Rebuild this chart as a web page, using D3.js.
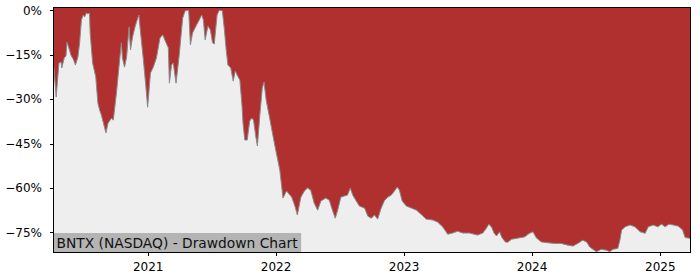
<!DOCTYPE html>
<html>
<head>
<meta charset="utf-8">
<script src="https://cdn.jsdelivr.net/npm/d3@7"></script>
<style>
  body { margin: 0; background: #fff; }
  svg { display: block; font-family: "DejaVu Sans", sans-serif; }
</style>
</head>
<body>
<div class="chart"></div>
<script>
// BNTX drawdown (%)
const dates = [
  "2020-04-06","2020-04-08","2020-04-15","2020-04-23","2020-04-29","2020-05-01","2020-05-08","2020-05-13","2020-05-16","2020-05-23",
  "2020-05-27","2020-06-04","2020-06-09","2020-06-16","2020-06-21","2020-06-26","2020-07-01","2020-07-05","2020-07-10","2020-07-14",
  "2020-07-19","2020-07-21","2020-07-28","2020-08-06","2020-08-12","2020-08-17","2020-08-22","2020-09-04","2020-09-10","2020-09-20",
  "2020-09-25","2020-10-04","2020-10-13","2020-10-18","2020-10-21","2020-10-27","2020-11-02","2020-11-09","2020-11-13","2020-11-19",
  "2020-11-26","2020-12-02","2020-12-07","2020-12-11","2020-12-19","2020-12-26","2021-01-01",
  "2021-01-09","2021-01-17","2021-01-26","2021-02-05","2021-02-13","2021-02-19","2021-03-01","2021-03-04","2021-03-10","2021-03-15",
  "2021-03-23","2021-04-01","2021-04-11","2021-04-18","2021-04-28","2021-05-03","2021-05-09","2021-05-19","2021-05-28","2021-06-04",
  "2021-06-09","2021-06-14","2021-06-22","2021-06-29","2021-07-05","2021-07-10","2021-07-18","2021-07-24","2021-08-02","2021-08-08",
  "2021-08-13","2021-08-18","2021-08-26","2021-09-02","2021-09-08","2021-09-16","2021-09-21","2021-09-27","2021-09-30","2021-10-05",
  "2021-10-12","2021-10-19","2021-10-25","2021-10-30","2021-11-06","2021-11-10","2021-11-17","2021-11-24","2021-11-29","2021-12-05",
  "2021-12-15","2021-12-24",
  "2022-01-03","2022-01-13","2022-01-22","2022-02-01","2022-02-16","2022-02-25","2022-03-04","2022-03-14","2022-03-24","2022-04-02",
  "2022-04-11","2022-04-21","2022-05-01","2022-05-10","2022-05-24","2022-06-03","2022-06-13","2022-06-20","2022-06-27","2022-07-06",
  "2022-07-16","2022-07-25","2022-08-02","2022-08-09","2022-08-19","2022-08-28","2022-09-12","2022-09-21","2022-10-01","2022-10-10",
  "2022-10-19","2022-10-29","2022-11-08","2022-11-17","2022-11-27","2022-12-06","2022-12-14","2022-12-20","2022-12-28",
  "2023-01-09","2023-01-24","2023-02-07","2023-02-22","2023-03-06","2023-03-25","2023-04-08","2023-04-23","2023-05-07","2023-05-21",
  "2023-06-04","2023-06-19","2023-07-08","2023-07-31","2023-08-15","2023-08-25","2023-09-01","2023-09-09","2023-09-16","2023-09-23",
  "2023-10-02","2023-10-08","2023-10-18","2023-10-25","2023-11-05","2023-11-24","2023-12-12","2023-12-26",
  "2024-01-05","2024-01-15","2024-01-29","2024-02-17","2024-03-06","2024-03-25","2024-04-14","2024-04-28","2024-05-12","2024-05-26",
  "2024-06-06","2024-06-15","2024-06-24","2024-07-04","2024-07-18","2024-08-02","2024-08-11","2024-08-20","2024-09-03","2024-09-09",
  "2024-09-14","2024-09-24","2024-10-08","2024-10-22","2024-11-06","2024-11-20","2024-11-29","2024-12-13","2024-12-26",
  "2025-01-06","2025-01-16","2025-01-27","2025-02-09","2025-02-23","2025-03-07","2025-03-14","2025-03-28"
];

const drawdown = [
  -17.5,-18.5,-29.3,-17.8,-17.5,-19.5,-16.1,-15.4,-10.7,-13.4,
  -15.1,-16.8,-18.5,-15.8,-11.0,-3.3,-1.6,-2.3,-0.9,-1.2,
  -0.9,-7.7,-17.8,-22.5,-31.3,-33.7,-35.4,-41.4,-38.1,-36.4,
  -37.1,-27.9,-16.8,-11.0,-16.1,-19.2,-15.8,-5.6,-13.4,-9.0,
  -5.6,-3.3,-1.6,-6.7,-15.8,-24.6,-32.7,
  -21.2,-19.2,-16.1,-9.4,-8.3,-10.0,-12.7,-24.6,-18.5,-17.8,
  -24.6,-15.1,-2.6,-0.2,0,-11.7,-7.7,-5.3,-3.3,-1.6,
  -3.3,-10.0,-5.3,-6.7,-11.0,-11.4,-1.6,0,-0.2,-6.7,
  -13.4,-18.5,-19.5,-23.9,-20.5,-22.5,-23.5,-32.0,-38.1,-43.8,
  -43.8,-37.4,-36.4,-37.1,-43.1,-45.8,-35.4,-26.2,-24.2,-30.3,
  -36.4,-42.1,
  -48.2,-53.9,-63.4,-61.0,-63.1,-66.1,-69.1,-63.1,-61.0,-60.0,
  -60.7,-65.1,-67.5,-64.4,-63.4,-64.1,-67.8,-70.2,-67.5,-63.1,
  -62.7,-62.4,-60.0,-62.4,-64.4,-66.1,-66.8,-69.5,-70.2,-69.1,
  -70.5,-66.8,-64.1,-63.1,-62.4,-61.0,-59.7,-60.7,-64.4,
  -66.1,-66.8,-67.5,-69.1,-70.5,-70.8,-71.5,-73.2,-75.6,-75.2,
  -74.6,-75.2,-75.2,-75.9,-75.2,-73.6,-72.2,-73.2,-75.2,-76.2,
  -74.8,-76.6,-78.2,-78.3,-77.3,-76.9,-76.5,-75.3,
  -74.8,-76.9,-78.2,-78.5,-78.7,-78.7,-79.3,-79.6,-78.7,-77.6,
  -78.2,-79.9,-80.7,-81.5,-80.7,-81.0,-81.5,-80.7,-80.4,-77.6,
  -74.2,-73.1,-72.5,-73.1,-74.8,-75.3,-73.1,-72.5,-73.1,
  -72.2,-73.1,-72.2,-72.5,-72.9,-74.2,-76.7,-77.0
];

const yTicks = [0, -15, -30, -45, -60, -75];
const xTickYears = ["2021", "2022", "2023", "2024", "2025"];
const title = "BNTX (NASDAQ) - Drawdown Chart";

const margin = {top: 7, right: 10, bottom: 28, left: 53};
const width = 700 - margin.left - margin.right;
const height = 280 - margin.top - margin.bottom;

const parse = d3.timeParse("%Y-%m-%d");
const data = dates.map((d, i) => ({date: parse(d), value: drawdown[i]}));

const x = d3.scaleTime()
    .domain(d3.extent(data, d => d.date))
    .range([0, width]);
const y = d3.scaleLinear()
    .domain([-81.6, 1.1])
    .range([height, 0]);

const svg = d3.select('.chart')
    .append('svg')
    .attr('width', 700)
    .attr('height', 280);

const g = svg.append('g')
    .attr('transform', `translate(${margin.left},${margin.top})`);

g.append('clipPath')
    .attr('id', 'plotClip')
    .append('rect')
    .attr('width', width)
    .attr('height', height);

// red behind everything, grey area from bottom up to the drawdown line
g.append('rect')
    .attr('width', width)
    .attr('height', height)
    .style('fill', '#b03030');

const plot = g.append('g').attr('clip-path', 'url(#plotClip)');

plot.append('path')
    .datum(data)
    .attr('d', d3.area()
        .x(d => x(d.date))
        .y0(height)
        .y1(d => y(d.value)))
    .style('fill', '#eeeeee');

plot.append('path')
    .datum(data)
    .attr('d', d3.line()
        .x(d => x(d.date))
        .y(d => y(d.value)))
    .style('fill', 'none')
    .style('stroke', '#8a8a8a')
    .style('stroke-width', 1);

// title box in the lower left corner
const label = g.append('text')
    .attr('x', 3.5)
    .attr('y', height - 4.5)
    .style('font-size', '13.8px')
    .style('fill', '#111')
    .text(title);
const bb = label.node().getBBox();
g.insert('rect', 'text')
    .attr('x', 0)
    .attr('y', height - 19)
    .attr('width', bb.x + bb.width + 3)
    .attr('height', 19)
    .style('fill', '#b4b4b4');

const fmt = v => (v < 0 ? '\u2212' + Math.abs(v) : v) + '%';

const yAxis = g.append('g')
    .call(d3.axisLeft(y).tickValues(yTicks).tickFormat(fmt).tickSize(3.5).tickPadding(7.5));
yAxis.select('.domain').remove();

const xAxis = g.append('g')
    .attr('transform', `translate(0,${height})`)
    .call(d3.axisBottom(x)
        .tickValues(xTickYears.map(s => parse(s + '-01-01')))
        .tickFormat(d3.timeFormat('%Y'))
        .tickSize(3.5)
        .tickPadding(7));
xAxis.select('.domain').remove();

svg.selectAll('.tick text')
    .style('font-family', '"DejaVu Sans", sans-serif')
    .style('font-size', '12px')
    .style('fill', '#000');
svg.selectAll('.tick line')
    .style('stroke', '#000')
    .style('stroke-width', 1)
    .style('shape-rendering', 'crispEdges');

// frame
g.append('rect')
    .attr('width', width)
    .attr('height', height)
    .style('fill', 'none')
    .style('stroke', '#000')
    .style('stroke-width', 1)
    .style('shape-rendering', 'crispEdges');
</script>
</body>
</html>
